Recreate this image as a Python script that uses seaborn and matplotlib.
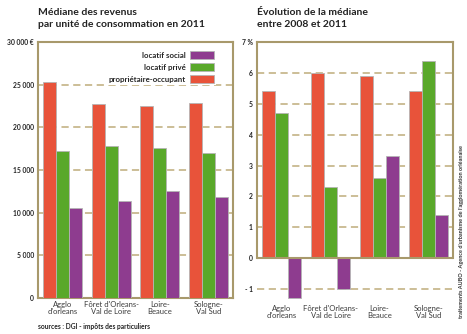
import numpy as np
import pandas as pd
import matplotlib
matplotlib.use("Agg")
import matplotlib.pyplot as plt
from matplotlib.patches import Patch
import seaborn as sns

categories = ["Agglo\nd'orleans", "Fôret d'Orleans-\nVal de Loire", "Loire-\nBeauce", "Sologne-\nVal Sud"]
series = ["propriétaire-occupant", "locatif privé", "locatif social"]
revenus_proprio = [25300, 22700, 22500, 22900]
revenus_prive = [17200, 17800, 17600, 17000]
revenus_social = [10600, 11400, 12500, 11800]
evol_proprio = [5.4, 6.0, 5.9, 5.4]
evol_prive = [4.7, 2.3, 2.6, 6.4]
evol_social = [-1.3, -1.0, 3.3, 1.4]
left_ticks = [0, 5000, 10000, 15000, 20000, 25000, 30000]
left_ticklabels = ["0", "5 000", "10 000", "15 000", "20 000", "25 000", "30 000 €"]
right_ticks = [-1, 0, 1, 2, 3, 4, 5, 6, 7]
right_ticklabels = ["- 1", "0", "1", "2", "3", "4", "5", "6", "7 %"]

colors = ["#e8533a", "#59a82a", "#8e3c8f"]
spine_c = "#a8996b"
grid_c = "#c8b98f"
FONT = ["Lato", "DejaVu Sans"]

sns.set_style("white")
plt.rcParams["font.family"] = FONT

def make_df(a, b, c):
    rows = []
    for i, cat in enumerate(categories):
        for s, vals in zip(series, (a, b, c)):
            rows.append({"cat": cat, "serie": s, "val": vals[i]})
    return pd.DataFrame(rows)

df_l = make_df(revenus_proprio, revenus_prive, revenus_social)
df_r = make_df(evol_proprio, evol_prive, evol_social)

fig = plt.figure(figsize=(4.67, 3.34), dpi=100)
axL = fig.add_axes([38/467, 1-298/334, 195/467, 256/334])
axR = fig.add_axes([257/467, 1-302/334, 196/467, 260/334])

for ax, df in ((axL, df_l), (axR, df_r)):
    sns.barplot(data=df, x="cat", y="val", hue="serie", hue_order=series,
                palette=colors, saturation=1, order=categories, width=0.8, ax=ax,
                edgecolor="#b5b5b5", linewidth=0.6, legend=False, zorder=3)
    ax.set_xlim(-0.5, 3.5)
    ax.set_xlabel("")
    ax.set_ylabel("")
    ax.set_xticks(range(4))
    ax.set_xticklabels(categories, fontsize=5.5, color="#3a3a3a", linespacing=1.0)
    ax.tick_params(axis="x", which="major", length=0, pad=2)
    ax.set_xticks([-0.5, 0.5, 1.5, 2.5], minor=True)
    ax.tick_params(axis="x", which="minor", direction="in", length=5, width=1.2, color=spine_c)
    ax.tick_params(axis="y", length=0, pad=3)
    for s in ax.spines.values():
        s.set_color(spine_c)
        s.set_linewidth(1.5)

# left axes
axL.set_ylim(0, 30000)
axL.set_yticks(left_ticks)
axL.set_yticklabels(left_ticklabels, fontsize=4.9, fontweight="bold", color="#222222")
for v in left_ticks[1:-1]:
    axL.axhline(v, color=grid_c, lw=1.3, ls=(0, (4, 2.5)), zorder=1)

# right axes
axR.set_ylim(-1.42, 7)
axR.set_yticks(right_ticks)
axR.set_yticklabels(right_ticklabels, fontsize=4.9, fontweight="bold", color="#222222")
for v in [-1, 1, 2, 3, 4, 5, 6]:
    axR.axhline(v, color=grid_c, lw=1.3, ls=(0, (4, 2.5)), zorder=1)
axR.axhline(0, color=spine_c, lw=1.5, zorder=4)
axR.spines["bottom"].set_visible(False)
axR.spines["left"].set_bounds(0, 7)
axR.spines["right"].set_bounds(0, 7)

# legend
handles = [Patch(facecolor=colors[i], edgecolor="#b5b5b5", linewidth=0.6, label=series[i]) for i in (2, 1, 0)]
leg = axL.legend(handles=handles, loc="upper right", bbox_to_anchor=(0.915, 0.975),
                 markerfirst=False, frameon=True, fancybox=False, framealpha=1,
                 edgecolor="none", facecolor="white", prop={"size": 5.7, "weight": "bold", "family": FONT},
                 handlelength=3.1, handleheight=1.2, labelspacing=0.5, handletextpad=0.5,
                 borderpad=0.3, borderaxespad=0)
leg.set_zorder(5)

# titles
tkw = dict(fontsize=7.5, fontweight="bold", color="#222222", va="baseline", ha="left")
fig.text(38/467, 1-15/334, "Médiane des revenus", **tkw)
fig.text(38/467, 1-27/334, "par unité de consommation en 2011", **tkw)
fig.text(257/467, 1-15/334, "Évolution de la médiane", **tkw)
fig.text(257/467, 1-27/334, "entre 2008 et 2011", **tkw)

fig.text(38/467, 1-326/334, "sources : DGI - impôts des particuliers",
         fontsize=4.8, fontweight="bold", color="#222222", va="center", ha="left")
fig.text(462/467, 1-318/334, "traitements AUBO - Agence d'urbanisme de l'agglomération orléanaise",
         fontsize=4.0, fontweight="bold", color="#333333", rotation=90, ha="center", va="bottom")

fig.savefig("out.png", dpi=100)
